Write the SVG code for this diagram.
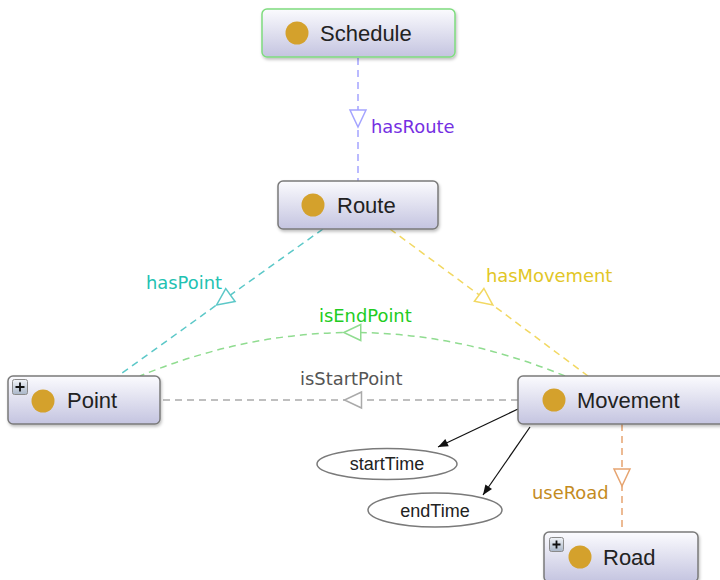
<svg xmlns="http://www.w3.org/2000/svg" width="720" height="580" viewBox="0 0 720 580">
  <style>
    .box { fill: url(#nodeFill); stroke: #7a7a7a; stroke-width: 1.5; }
    .box.root { stroke: #7fdc7f; }
    .dot { fill: #d4a12c; }
    .name { font-family: "Liberation Sans", Arial, sans-serif; font-size: 22px; fill: #222; }
    .edge { fill: none; stroke-width: 1.5; stroke-dasharray: 7 5; }
    .elabel { font-family: "DejaVu Sans", sans-serif; font-size: 17.9px; }
    .attr { fill: #fff; stroke: #7a7a7a; stroke-width: 1.5; }
    .attrText { font-family: "Liberation Sans", Arial, sans-serif; font-size: 18px; fill: #222; }
    .plus { fill: url(#plusFill); stroke: #8a8a8a; stroke-width: 1; }
    .plusMark { stroke: #111; stroke-width: 1.8; }
  </style>
  <defs>
    <linearGradient id="nodeFill" x1="0" y1="0" x2="0" y2="1">
      <stop offset="0" stop-color="#fbfbfe"/>
      <stop offset="1" stop-color="#c4c4e0"/>
    </linearGradient>
    <linearGradient id="plusFill" x1="0" y1="0" x2="0" y2="1">
      <stop offset="0" stop-color="#f2f4f8"/>
      <stop offset="1" stop-color="#a9b6c8"/>
    </linearGradient>
    <filter id="shadow" x="-10%" y="-20%" width="120%" height="150%">
      <feDropShadow dx="1" dy="2" stdDeviation="1.5" flood-color="#000" flood-opacity="0.25"/>
    </filter>
    <marker id="triBlue" markerUnits="userSpaceOnUse" markerWidth="20" markerHeight="20" refX="8.5" refY="8" orient="auto" overflow="visible">
      <path d="M0,0 L17,8 L0,16 Z" fill="#fff" stroke="#a4a4ff" stroke-width="1.5"/>
    </marker>
    <marker id="triTeal" markerUnits="userSpaceOnUse" markerWidth="20" markerHeight="20" refX="8.5" refY="8" orient="auto" overflow="visible">
      <path d="M0,0 L17,8 L0,16 Z" fill="#fff" stroke="#5cc8c8" stroke-width="1.5"/>
    </marker>
    <marker id="triYellow" markerUnits="userSpaceOnUse" markerWidth="20" markerHeight="20" refX="8.5" refY="8" orient="auto" overflow="visible">
      <path d="M0,0 L17,8 L0,16 Z" fill="#fff" stroke="#f2d862" stroke-width="1.5"/>
    </marker>
    <marker id="triGreen" markerUnits="userSpaceOnUse" markerWidth="20" markerHeight="20" refX="8.5" refY="8" orient="auto" overflow="visible">
      <path d="M0,0 L17,8 L0,16 Z" fill="#fff" stroke="#90dc90" stroke-width="1.5"/>
    </marker>
    <marker id="triGrey" markerUnits="userSpaceOnUse" markerWidth="20" markerHeight="20" refX="8.5" refY="8" orient="auto" overflow="visible">
      <path d="M0,0 L17,8 L0,16 Z" fill="#fff" stroke="#aaaaaa" stroke-width="1.5"/>
    </marker>
    <marker id="triOrange" markerUnits="userSpaceOnUse" markerWidth="20" markerHeight="20" refX="8.5" refY="8" orient="auto" overflow="visible">
      <path d="M0,0 L17,8 L0,16 Z" fill="#fff" stroke="#e6a470" stroke-width="1.5"/>
    </marker>
    <marker id="arrowBlack" markerUnits="userSpaceOnUse" markerWidth="12" markerHeight="10" refX="10" refY="4" orient="auto" overflow="visible">
      <path d="M0,0 L10,4 L0,8 Z" fill="#111"/>
    </marker>
  </defs>

  <!-- connectors -->
  <g id="connectors">
    <path class="edge" d="M358,58 L358,118.5 L358,181" stroke="#a4a4ff" marker-mid="url(#triBlue)"/>
    <text class="elabel" x="371" y="133" fill="#7530e2">hasRoute</text>

    <path class="edge" d="M323,229 L223.5,300 L118,376" stroke="#5cc8c8" marker-mid="url(#triTeal)"/>
    <text class="elabel" x="146" y="289" fill="#22c2b2">hasPoint</text>

    <path class="edge" d="M390,229 L486,300 L588,376" stroke="#f2d862" marker-mid="url(#triYellow)"/>
    <text class="elabel" x="486" y="282" fill="#e2c626">hasMovement</text>

    <path class="edge" d="M565,376 Q458.5,332.5 352.25,332.5 Q246,332.5 140,376" stroke="#90dc90" marker-mid="url(#triGreen)"/>
    <text class="elabel" x="319" y="322" fill="#22cc22">isEndPoint</text>

    <path class="edge" d="M518,400 L353,400 L160,400" stroke="#aaaaaa" marker-mid="url(#triGrey)"/>
    <text class="elabel" x="300" y="385" fill="#555555">isStartPoint</text>

    <path class="edge" d="M622,424 L622,477.5 L622,532" stroke="#e6a470" marker-mid="url(#triOrange)"/>
    <text class="elabel" x="532" y="499" fill="#c48b1e">useRoad</text>

    <path d="M518,409 L438,447" stroke="#111" stroke-width="1.2" fill="none" marker-end="url(#arrowBlack)"/>
    <path d="M530,427 L483,495" stroke="#111" stroke-width="1.2" fill="none" marker-end="url(#arrowBlack)"/>
  </g>

  <!-- class nodes -->
  <g id="node-schedule">
    <rect class="box root" x="262" y="9" width="193" height="48" rx="5" filter="url(#shadow)"/>
    <circle class="dot" cx="297" cy="33" r="11.5"/>
    <text class="name" x="320" y="41">Schedule</text>
  </g>

  <g id="node-route">
    <rect class="box" x="278" y="181" width="160" height="48" rx="5" filter="url(#shadow)"/>
    <circle class="dot" cx="313" cy="205" r="11.5"/>
    <text class="name" x="337" y="213">Route</text>
  </g>

  <g id="node-point">
    <rect class="box" x="8" y="376" width="152" height="48" rx="5" filter="url(#shadow)"/>
    <rect class="plus" x="12.5" y="379.5" width="15" height="15" rx="2"/>
    <path class="plusMark" d="M15.5,387 H24.5 M20,382.5 V391.5"/>
    <circle class="dot" cx="43" cy="401" r="11.5"/>
    <text class="name" x="67" y="408">Point</text>
  </g>

  <g id="node-movement">
    <rect class="box" x="518" y="376" width="212" height="48" rx="5" filter="url(#shadow)"/>
    <circle class="dot" cx="554" cy="400" r="11.5"/>
    <text class="name" x="577" y="408">Movement</text>
  </g>

  <g id="node-road">
    <rect class="box" x="544" y="532" width="154" height="50" rx="5" filter="url(#shadow)"/>
    <rect class="plus" x="549.5" y="537.5" width="14" height="14" rx="2"/>
    <path class="plusMark" d="M552.5,544.5 H560.5 M556.5,540.5 V548.5"/>
    <circle class="dot" cx="580" cy="557" r="11.5"/>
    <text class="name" x="603" y="565">Road</text>
  </g>

  <!-- attribute nodes -->
  <g id="node-startTime">
    <ellipse class="attr" cx="387" cy="464" rx="70" ry="15.5"/>
    <text class="attrText" x="387" y="470" text-anchor="middle">startTime</text>
  </g>

  <g id="node-endTime">
    <ellipse class="attr" cx="435" cy="510" rx="67" ry="17"/>
    <text class="attrText" x="435" y="516.5" text-anchor="middle">endTime</text>
  </g>
</svg>
